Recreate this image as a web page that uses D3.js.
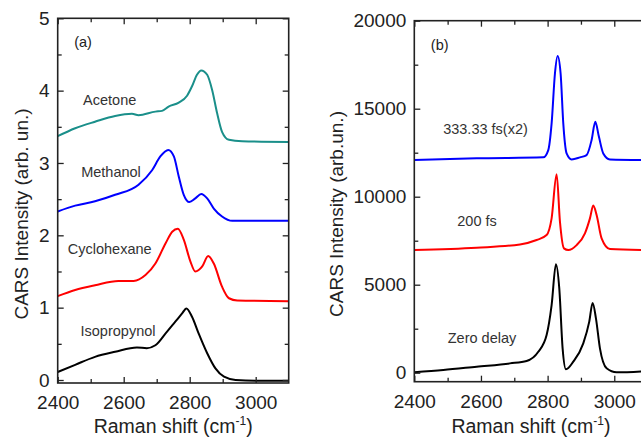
<!DOCTYPE html>
<html>
<head>
<meta charset="utf-8">
<script src="https://cdn.jsdelivr.net/npm/d3@7"></script>
<style>
  body { margin: 0; background: #fff; }
  svg { display: block; font-family: "Liberation Sans", Arial, sans-serif; }
</style>
</head>
<body>
<div id="chart"></div>
<script>
// panel (a): [Raman shift, intensity]
const acetone = [[2400,3.37],[2453,3.48],[2513,3.57],[2574,3.65],[2625,3.68],[2645,3.66],[2696,3.71],[2716,3.72],
  [2736,3.78],[2767,3.835],[2792,3.93],[2807,4.06],[2822,4.22],[2835,4.28],[2853,4.22],[2868,4.01],[2883,3.69],
  [2898,3.43],[2919,3.32],[2959,3.30],[3100,3.29]];
const methanol = [[2400,2.33],[2453,2.41],[2513,2.47],[2574,2.56],[2645,2.70],[2686,2.90],[2711,3.09],[2735,3.18],
  [2752,3.09],[2767,2.81],[2782,2.56],[2799,2.46],[2817,2.51],[2835,2.57],[2853,2.51],[2873,2.37],[2898,2.26],
  [2929,2.20],[3100,2.20]];
const cyclohexane = [[2400,1.16],[2453,1.245],[2513,1.31],[2584,1.37],[2630,1.37],[2666,1.45],[2696,1.61],[2727,1.89],
  [2747,2.05],[2764,2.09],[2782,1.94],[2802,1.64],[2817,1.50],[2838,1.57],[2856,1.715],[2873,1.61],[2898,1.29],
  [2919,1.13],[2944,1.10],[3100,1.09]];
const isopropynol = [[2400,0.11],[2453,0.21],[2513,0.32],[2574,0.39],[2640,0.45],[2670,0.44],[2696,0.48],[2727,0.645],
  [2757,0.81],[2777,0.92],[2790,0.99],[2807,0.875],[2827,0.645],[2853,0.37],[2878,0.16],[2904,0.045],[2939,0.0],
  [3000,-0.01],[3100,-0.01]];

// panel (b)
const delay333 = [[2400,12080],[2587,12180],[2787,12235],[2802,12650],[2812,14165],[2822,17000],[2830,17990],
  [2839,17000],[2847,14165],[2857,12460],[2872,12120],[2897,12235],[2917,12365],[2932,13220],[2943,14255],
  [2954,13400],[2967,12460],[2987,12120],[3100,12080]];
const delay200 = [[2400,6970],[2587,7100],[2717,7290],[2767,7540],[2797,7820],[2812,8770],[2827,11280],[2837,8580],
  [2849,7065],[2862,6970],[2887,7250],[2912,7920],[2927,8770],[2937,9500],[2947,8960],[2962,7630],[2987,7025],
  [3100,6970]];
const delay0 = [[2400,20],[2487,150],[2587,340],[2687,530],[2737,665],[2772,1190],[2797,2140],[2812,3845],[2825,6160],
  [2835,4790],[2845,1385],[2855,190],[2877,625],[2907,1670],[2925,2900],[2935,3960],[2945,3090],[2957,1385],
  [2977,250],[3007,20],[3100,95]];

const xTicks = [2400, 2600, 2800, 3000];
const yTicksA = [0, 1, 2, 3, 4, 5];
const yTicksB = [0, 5000, 10000, 15000, 20000];

const panels = [
  { left: 57.7, top: 18.3, right: 288.7, bottom: 383, xDom: [2400, 3100], yDom: [-0.0415, 5],
    yTicks: yTicksA, yMinor: d3.range(0.5, 5, 1), tag: "(a)", yTitle: "CARS Intensity (arb. un.)",
    titleX: 28, series: [
      { data: acetone, color: "#1a8f8a", label: "Acetone", lx: 109.7, ly: 105 },
      { data: methanol, color: "#0000ff", label: "Methanol", lx: 111, ly: 176.5 },
      { data: cyclohexane, color: "#ff0000", label: "Cyclohexane", lx: 109.7, ly: 254 },
      { data: isopropynol, color: "#000000", label: "Isopropynol", lx: 118, ly: 335.5 }
    ] },
  { left: 414.3, top: 20.7, right: 647.6, bottom: 381.7, xDom: [2400, 3100], yDom: [-511, 20000],
    yTicks: yTicksB, yMinor: [2500, 7500, 12500, 17500], tag: "(b)", yTitle: "CARS Intensity (arb.un.)",
    titleX: 342.5, series: [
      { data: delay333, color: "#0000ff", label: "333.33 fs(x2)", lx: 485.5, ly: 134 },
      { data: delay200, color: "#ff0000", label: "200 fs", lx: 477, ly: 226 },
      { data: delay0, color: "#000000", label: "Zero delay", lx: 482, ly: 343 }
    ] }
];

const svg = d3.select("#chart").append("svg")
  .attr("width", 641).attr("height", 437);

panels.forEach(p => {
  const x = d3.scaleLinear().domain(p.xDom).range([p.left, p.right]);
  const y = d3.scaleLinear().domain(p.yDom).range([p.bottom, p.top]);
  const g = svg.append("g");

  const clipId = "clip" + p.tag.replace(/\W/g, "");
  svg.append("clipPath").attr("id", clipId)
    .append("rect").attr("x", p.left).attr("y", p.top)
    .attr("width", p.right - p.left).attr("height", p.bottom - p.top);

  const line = d3.line().x(d => x(d[0])).y(d => y(d[1])).curve(d3.curveMonotoneX);
  p.series.forEach(s => {
    g.append("path").datum(s.data)
      .attr("clip-path", `url(#${clipId})`)
      .attr("fill", "none").attr("stroke", s.color).attr("stroke-width", 2)
      .attr("stroke-linejoin", "round").attr("d", line);
    g.append("text").attr("x", s.lx).attr("y", s.ly)
      .attr("text-anchor", "middle").attr("font-size", 14.5).attr("fill", "#333")
      .text(s.label);
  });

  const xMinor = d3.range(2500, 3100, 200);
  const styleAxis = a => {
    a.select(".domain").remove();
    a.selectAll("line").attr("stroke", "#222").attr("stroke-width", 1.3);
    a.selectAll("text").attr("font-size", 19).attr("fill", "#222");
  };

  // bottom + top
  g.append("g").attr("transform", `translate(0,${p.bottom})`)
    .call(d3.axisBottom(x).tickValues(xTicks).tickFormat(d3.format("d")).tickSizeInner(-6).tickSizeOuter(0).tickPadding(13))
    .call(styleAxis);
  g.append("g").attr("transform", `translate(0,${p.bottom})`)
    .call(d3.axisBottom(x).tickValues(xMinor).tickFormat("").tickSizeInner(-4).tickSizeOuter(0))
    .call(styleAxis);
  g.append("g").attr("transform", `translate(0,${p.top})`)
    .call(d3.axisTop(x).tickValues(xTicks).tickFormat("").tickSizeInner(-6).tickSizeOuter(0))
    .call(styleAxis);
  g.append("g").attr("transform", `translate(0,${p.top})`)
    .call(d3.axisTop(x).tickValues(xMinor).tickFormat("").tickSizeInner(-4).tickSizeOuter(0))
    .call(styleAxis);
  // left + right
  g.append("g").attr("transform", `translate(${p.left},0)`)
    .call(d3.axisLeft(y).tickValues(p.yTicks).tickFormat(d3.format("d")).tickSizeInner(-6).tickSizeOuter(0).tickPadding(8))
    .call(styleAxis);
  g.append("g").attr("transform", `translate(${p.left},0)`)
    .call(d3.axisLeft(y).tickValues(p.yMinor).tickFormat("").tickSizeInner(-4).tickSizeOuter(0))
    .call(styleAxis);
  g.append("g").attr("transform", `translate(${p.right},0)`)
    .call(d3.axisRight(y).tickValues(p.yTicks).tickFormat("").tickSizeInner(-6).tickSizeOuter(0))
    .call(styleAxis);
  g.append("g").attr("transform", `translate(${p.right},0)`)
    .call(d3.axisRight(y).tickValues(p.yMinor).tickFormat("").tickSizeInner(-4).tickSizeOuter(0))
    .call(styleAxis);

  // frame
  g.append("rect").attr("x", p.left).attr("y", p.top)
    .attr("width", p.right - p.left).attr("height", p.bottom - p.top)
    .attr("fill", "none").attr("stroke", "#222").attr("stroke-width", 1.6);

  g.append("text").attr("x", p.left + 16.5).attr("y", p.top + 29)
    .attr("font-size", 14.5).attr("fill", "#222").text(p.tag);

  // axis titles
  const xt = g.append("text").attr("x", (p.left + p.right) / 2).attr("y", 433)
    .attr("text-anchor", "middle").attr("font-size", 19.5).attr("fill", "#222");
  xt.append("tspan").text("Raman shift (cm");
  xt.append("tspan").attr("font-size", 12).attr("dy", -8).text("-1");
  xt.append("tspan").attr("dy", 8).text(")");

  g.append("text").attr("transform", `translate(${p.titleX},${214}) rotate(-90)`)
    .attr("text-anchor", "middle").attr("font-size", 19).attr("fill", "#222")
    .text(p.yTitle);
});
</script>
</body>
</html>
